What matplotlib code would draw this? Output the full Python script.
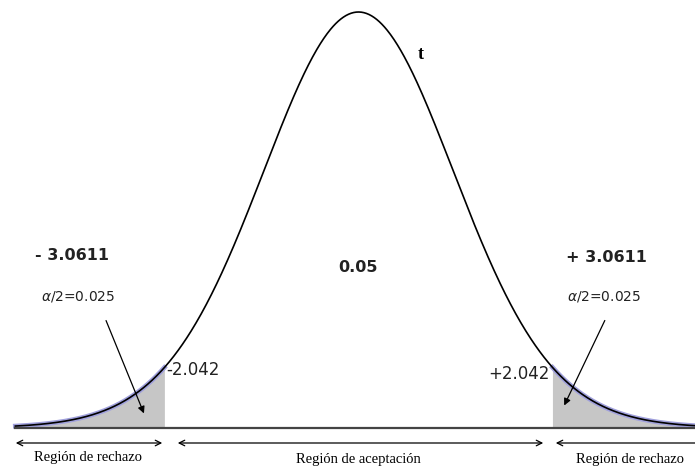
import math
import numpy as np
import matplotlib
matplotlib.use("Agg")
import matplotlib.pyplot as plt

# values
T_CRIT = 2.042          # critical t shown at the shaded edges
DF = 30                 # degrees of freedom of the drawn curve
STRETCH = 1.027         # the drawing is a little wider than the true pdf
X_LO, X_HI = -3.62, 3.60
LEFT_LABEL = "- 3.0611"
RIGHT_LABEL = "+ 3.0611"
CENTER_LABEL = "0.05"
ALPHA_LABEL = r"$\alpha$/2=0.025"
REGIONS = ["Región de rechazo", "Región de aceptación", "Región de rechazo"]


def tpdf(x, df):
    c = math.gamma((df + 1) / 2) / (math.sqrt(df * math.pi) * math.gamma(df / 2))
    return c * (1 + x ** 2 / df) ** (-(df + 1) / 2)


W, H = 695, 467
fig = plt.figure(figsize=(W / 100, H / 100), dpi=100)
ax = fig.add_axes([0, 0, 1, 1])
px = 94.8  # pixels per unit
x0 = 358.5
ax.set_xlim(-x0 / px, (W - x0) / px)
ax.set_ylim(-39 / 416, 428 / 416)
ax.axis("off")

x = np.linspace(X_LO, X_HI, 800)
y = tpdf(x / STRETCH, DF) / tpdf(0, DF)

# shaded tails
for mask in (x <= -T_CRIT, x >= T_CRIT):
    ax.fill_between(x[mask], 0, y[mask], color="#c6c6c6", lw=0, zorder=1)
    ax.plot(x[mask], y[mask], color="#a0a0dc", lw=3.4, zorder=2)
ax.plot(x, y, color="black", lw=1.2, zorder=3)
ax.plot([X_LO, X_HI], [0, 0], color="#444444", lw=1.6, zorder=3)


def dx(p):
    return (p - x0) / px


def dy(p):
    return (428 - p) / 416


# region arrows
arr = dict(arrowstyle="<->", color="black", lw=0.9, mutation_scale=10)
for a, b in [(13, 165), (175, 546), (553, 720)]:
    ax.annotate("", xy=(dx(b), dy(443)), xytext=(dx(a), dy(443)), arrowprops=arr,
                annotation_clip=False)
serif = dict(family="Liberation Serif", fontsize=10.5, ha="center", va="center")
ax.text(dx(88), dy(457), REGIONS[0], **serif)
ax.text(dx(358), dy(459), REGIONS[1], **serif)
ax.text(dx(576), dy(459), REGIONS[2], family="Liberation Serif", fontsize=10.5,
        ha="left", va="center")

# numbers
bold = dict(fontsize=11.5, fontweight="bold", ha="center", va="center", color="#222222")
ax.text(dx(72), dy(256), LEFT_LABEL, **bold)
ax.text(dx(606), dy(257), RIGHT_LABEL, **bold)
ax.text(dx(358), dy(268), CENTER_LABEL, **bold)
small = dict(fontsize=10, ha="center", va="center", color="#222222",
             family="Liberation Sans Narrow")
ax.text(dx(78), dy(296), ALPHA_LABEL, **small)
ax.text(dx(604), dy(296), ALPHA_LABEL, **small)
ax.text(-T_CRIT + 0.01, dy(370), f"-{T_CRIT}", fontsize=12, ha="left", va="center",
        color="#222222")
ax.text(T_CRIT - 0.03, dy(374), f"+{T_CRIT}", fontsize=12, ha="right", va="center",
        color="#222222")
ax.text(dx(421), dy(55), "t", family="Liberation Serif", fontsize=13,
        fontweight="bold", ha="center", va="center")

# pointer arrows
pa = dict(arrowstyle="-|>", color="black", lw=0.9, mutation_scale=10)
ax.annotate("", xy=(dx(145), dy(416)), xytext=(dx(105), dy(318)), arrowprops=pa)
ax.annotate("", xy=(dx(563), dy(408)), xytext=(dx(606), dy(318)), arrowprops=pa)

fig.savefig("out.png", dpi=100)
